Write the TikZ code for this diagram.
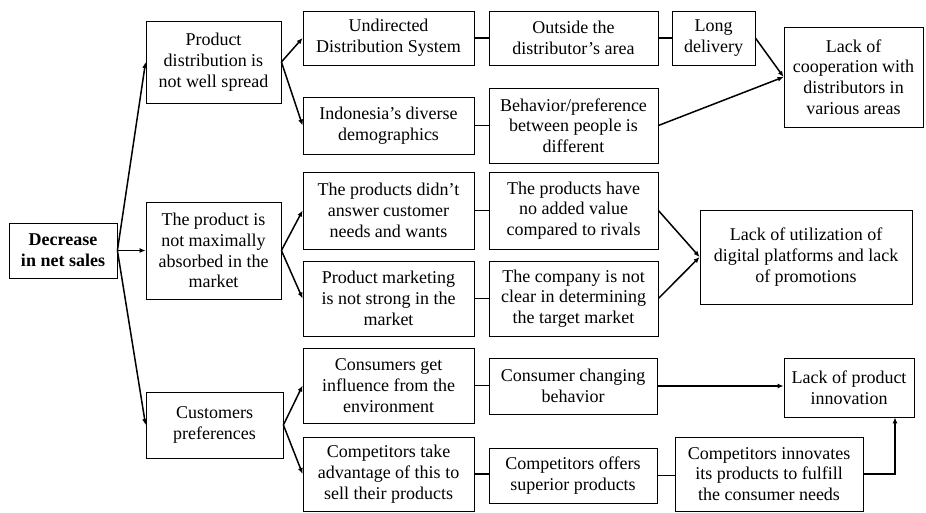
\documentclass[tikz,border=0pt]{standalone}
\usepackage{fontspec}
\setmainfont{Liberation Serif}
\usetikzlibrary{arrows.meta}
\tikzset{
  box/.style={draw, line width=0.8pt, align=center, inner sep=1pt,
    font=\fontsize{18}{20.7}\selectfont},
  link/.style={line width=1.5pt},
  arr/.style={link, -{Latex[length=6pt,width=5pt]}}
}
\begin{document}
\begin{tikzpicture}[x=1pt, y=-1pt]
        \useasboundingbox (0,0) rectangle (926,512);
        %% Root problem
        \node[box, font=\fontsize{18}{20.7}\selectfont\bfseries, minimum width=108pt, minimum height=55pt] (root) at (63,250.5) {Decrease\\in net sales};
        %% First causes
        \node[box, minimum width=135pt, minimum height=82pt] (spread) at (213.5,62) {Product\\distribution is\\not well spread};
        \node[box, minimum width=135pt, minimum height=97pt] (absorb) at (213.5,250.5) {The product is\\not maximally\\absorbed in the\\market};
        \node[box, minimum width=137pt, minimum height=66pt] (prefer) at (214.5,425) {Customers\\preferences};
        %% Second column
        \node[box, minimum width=171pt, minimum height=54pt] (undir) at (388.5,38) {Undirected\\Distribution System};
        \node[box, minimum width=171pt, minimum height=57pt] (demog) at (388.5,125.5) {Indonesia's diverse\\demographics};
        \node[box, minimum width=171pt, minimum height=77pt] (needs) at (388.5,210.5) {The products didn't\\answer customer\\needs and wants};
        \node[box, minimum width=171pt, minimum height=75pt] (market) at (388.5,298.5) {Product marketing\\is not strong in the\\market};
        \node[box, minimum width=171pt, minimum height=75pt] (envir) at (388.5,385.5) {Consumers get\\influence from the\\environment};
        \node[box, minimum width=171pt, minimum height=74pt] (advan) at (388.5,474) {Competitors take\\advantage of this to\\sell their products};
        %% Third column
        \node[box, minimum width=169pt, minimum height=54pt] (outside) at (573.5,38) {Outside the\\distributor's area};
        \node[box, minimum width=169pt, minimum height=75pt] (behav) at (573.5,125.5) {Behavior/preference\\between people is\\different};
        \node[box, minimum width=169pt, minimum height=77pt] (value) at (573.5,210.5) {The products have\\no added value\\compared to rivals};
        \node[box, minimum width=169pt, minimum height=75pt] (target) at (573.5,298.5) {The company is not\\clear in determining\\the target market};
        \node[box, minimum width=168pt, minimum height=56pt] (change) at (573,386) {Consumer changing\\behavior};
        \node[box, minimum width=168pt, minimum height=55pt] (offer) at (573,475.5) {Competitors offers\\superior products};
        %% Fourth column
        \node[box, minimum width=83pt, minimum height=54pt] (delivery) at (713.5,38) {Long\\delivery};
        \node[box, minimum width=188pt, minimum height=74pt] (innov) at (769,474) {Competitors innovates\\its products to fulfill\\the consumer needs};
        %% Root causes
        \node[box, minimum width=139pt, minimum height=100pt] (coop) at (853.5,77) {Lack of\\cooperation with\\distributors in\\various areas};
        \node[box, minimum width=212pt, minimum height=94pt] (digital) at (806,257) {Lack of utilization of\\digital platforms and lack\\of promotions};
        \node[box, minimum width=130pt, minimum height=59pt] (product) at (849,387.5) {Lack of product\\innovation};
        %% Arrows from the root
        \draw[arr] (root.east) -- (spread.west);
        \draw[arr] (root.east) -- (absorb.west);
        \draw[arr] (root.east) -- (prefer.west);
        \draw[arr] (spread.east) -- (undir.west);
        \draw[arr] (spread.east) -- (demog.west);
        \draw[arr] (absorb.east) -- (needs.west);
        \draw[arr] (absorb.east) -- (market.west);
        \draw[arr] (prefer.east) -- (envir.west);
        \draw[arr] (prefer.east) -- (advan.west);
        %% Plain links
        \draw[link] (undir) -- (outside);
        \draw[link] (outside) -- (delivery);
        \draw[link] (demog) -- (behav);
        \draw[link] (needs) -- (value);
        \draw[link] (market) -- (target);
        \draw[link] (envir.east) -- (envir.east -| change.west);
        \draw[link] (advan.east) -- (advan.east -| offer.west);
        \draw[link] (offer) -- (offer -| innov.west);
        %% Into the root causes
        \draw[arr] (delivery.east) -- (coop.west);
        \draw[arr] (behav.east) -- (coop.west);
        \draw[arr] (value.east) -- (digital.west);
        \draw[arr] (target.east) -- (digital.west);
        \draw[arr] (change.east) -- (change.east -| product.west);
        \draw[arr] (innov.east) -| ([xshift=46pt]product.south);
\end{tikzpicture}
\end{document}
